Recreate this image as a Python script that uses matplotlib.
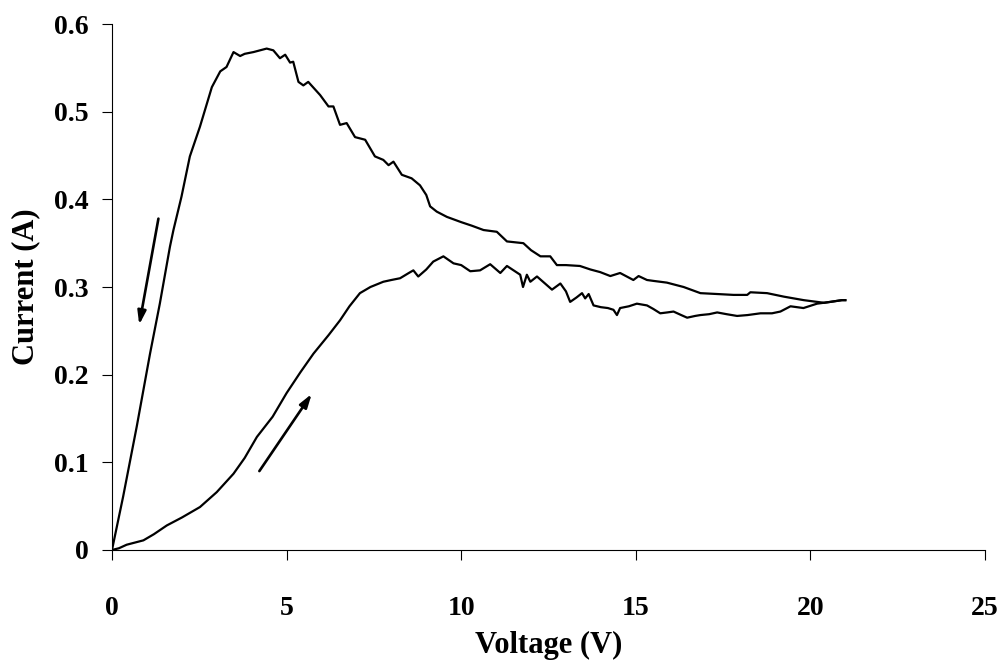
import matplotlib
matplotlib.use('Agg')
import matplotlib.pyplot as plt

# forward sweep (0 -> 21 V), lower branch
fwd_v = [0, 0.2, 0.42, 0.9, 1.2, 1.57, 2.0, 2.52, 3.0, 3.48, 3.8, 4.15, 4.6, 5.0, 5.4, 5.77,
         6.2, 6.53, 6.8, 7.1, 7.4, 7.77, 8.0, 8.25, 8.5, 8.63, 8.77, 9.0, 9.2, 9.49, 9.78, 10.0,
         10.26, 10.54, 10.83, 11.12, 11.31, 11.5, 11.69, 11.77, 11.88, 11.98, 12.17, 12.4, 12.6,
         12.84, 13.0, 13.12, 13.3, 13.46, 13.55, 13.65, 13.79, 14.0, 14.2, 14.36, 14.46, 14.55,
         14.8, 15.03, 15.32, 15.5, 15.7, 15.9, 16.08, 16.3, 16.47, 16.7, 16.85, 17.1, 17.33, 17.6,
         17.9, 18.2, 18.57, 18.9, 19.14, 19.43, 19.8, 20.19, 20.57, 20.9, 21.0]
fwd_i = [0, 0.002, 0.006, 0.011, 0.018, 0.028, 0.037, 0.049, 0.066, 0.087, 0.105, 0.129, 0.152,
         0.179, 0.203, 0.224, 0.245, 0.262, 0.278, 0.293, 0.300, 0.306, 0.308, 0.310, 0.316, 0.319,
         0.312, 0.320, 0.329, 0.335, 0.327, 0.325, 0.318, 0.319, 0.326, 0.316, 0.324, 0.319, 0.314,
         0.300, 0.314, 0.306, 0.312, 0.304, 0.297, 0.304, 0.295, 0.283, 0.288, 0.293, 0.287, 0.292,
         0.279, 0.277, 0.276, 0.274, 0.268, 0.276, 0.278, 0.281, 0.279, 0.275, 0.270, 0.271, 0.272,
         0.268, 0.265, 0.267, 0.268, 0.269, 0.271, 0.269, 0.267, 0.268, 0.270, 0.270, 0.272, 0.278,
         0.276, 0.281, 0.283, 0.285, 0.285]

# return sweep (21 -> 0 V), upper branch
rev_v = [21.0, 20.9, 20.39, 19.81, 19.24, 18.76, 18.28, 18.19, 17.8, 17.33, 16.85, 16.37, 15.89,
         15.5, 15.32, 15.08, 14.93, 14.55, 14.27, 13.98, 13.7, 13.4, 13.0, 12.74, 12.55, 12.27,
         12.0, 11.78, 11.31, 11.02, 10.64, 10.3, 10.0, 9.59, 9.3, 9.11, 9.0, 8.82, 8.58, 8.3, 8.06,
         7.92, 7.77, 7.53, 7.25, 6.96, 6.72, 6.53, 6.34, 6.2, 5.96, 5.62, 5.48, 5.34, 5.19, 5.1,
         4.96, 4.81, 4.62, 4.43, 4.05, 3.8, 3.67, 3.48, 3.28, 3.1, 2.86, 2.52, 2.23, 1.99, 1.76,
         1.66, 1.37, 1.09, 0.71, 0.32, 0.0]
rev_i = [0.285, 0.285, 0.282, 0.285, 0.289, 0.293, 0.294, 0.291, 0.291, 0.292, 0.293, 0.300,
         0.305, 0.307, 0.308, 0.3125, 0.308, 0.316, 0.3125, 0.317, 0.320, 0.324, 0.325, 0.325,
         0.335, 0.335, 0.342, 0.350, 0.352, 0.363, 0.365, 0.370, 0.374, 0.380, 0.386, 0.392, 0.405,
         0.416, 0.424, 0.428, 0.443, 0.439, 0.445, 0.449, 0.468, 0.471, 0.487, 0.485, 0.506, 0.506,
         0.519, 0.534, 0.530, 0.534, 0.557, 0.556, 0.565, 0.561, 0.570, 0.572, 0.568, 0.566,
         0.5635, 0.568, 0.551, 0.546, 0.528, 0.483, 0.449, 0.403, 0.365, 0.346, 0.281, 0.224,
         0.141, 0.061, 0.0]

# sweep-direction arrows: (tail, head) in data coords
arrow_down = ((1.33, 0.378), (0.78, 0.257))
arrow_up = ((4.22, 0.090), (5.72, 0.178))

x_ticks = [0, 5, 10, 15, 20, 25]
y_ticks = [0, 0.1, 0.2, 0.3, 0.4, 0.5, 0.6]
y_labels = ['0', '0.1', '0.2', '0.3', '0.4', '0.5', '0.6']

plt.rcParams['font.family'] = ['Liberation Serif', 'DejaVu Serif']
plt.rcParams['font.weight'] = 'bold'

fig = plt.figure(figsize=(9.98, 6.62), dpi=100)
ax = fig.add_axes([0.1122, 0.1692, 0.8748, 0.7945])

ax.plot(fwd_v, fwd_i, color='black', linewidth=1.6)
ax.plot(rev_v, rev_i, color='black', linewidth=1.6)

for tail, head in (arrow_down, arrow_up):
    ax.annotate('', xy=head, xytext=tail,
                arrowprops=dict(arrowstyle='-|>,head_length=0.8,head_width=0.25',
                                color='black', lw=1.9, shrinkA=0, shrinkB=0))

ax.set_xlim(0, 25)
ax.set_ylim(0, 0.6)
ax.set_xticks(x_ticks)
ax.set_yticks(y_ticks)
ax.set_yticklabels(y_labels)
ax.tick_params(axis='x', direction='out', length=7, width=0.8, pad=26, labelsize=20)
ax.tick_params(axis='y', direction='out', length=7, width=0.8, pad=10, labelsize=20)
for s in ('top', 'right'):
    ax.spines[s].set_visible(False)
for s in ('left', 'bottom'):
    ax.spines[s].set_linewidth(0.8)

ax.set_xlabel('Voltage (V)', fontsize=22, fontweight='bold', labelpad=7)
ax.set_ylabel('Current (A)', fontsize=22, fontweight='bold', labelpad=10)

fig.savefig('out.png', dpi=100)
